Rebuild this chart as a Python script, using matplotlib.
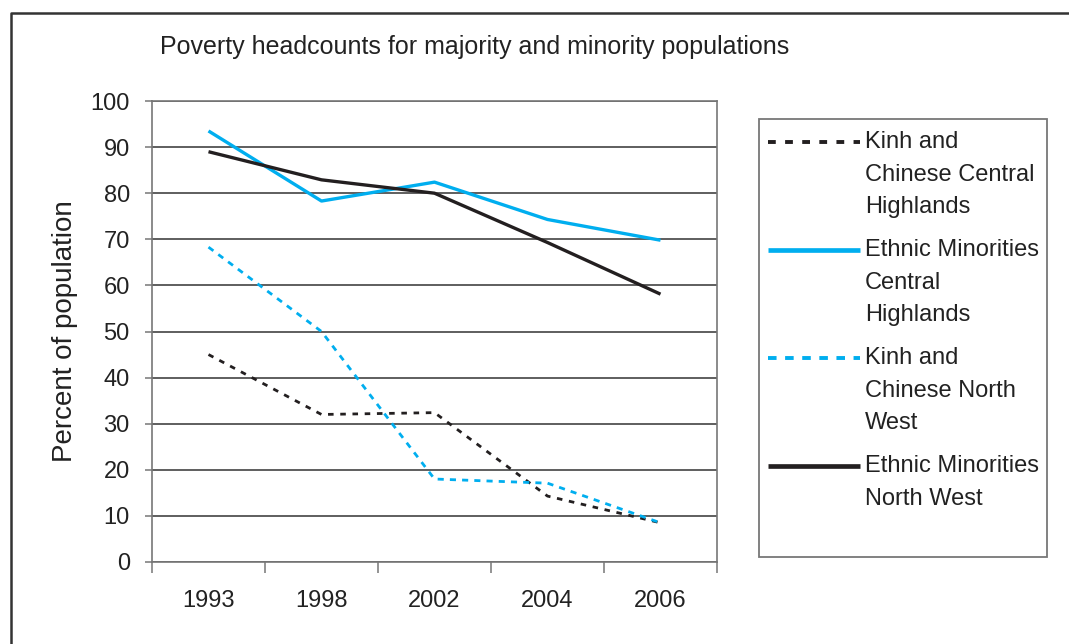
import numpy as np
import matplotlib.pyplot as plt
from matplotlib.lines import Line2D
from matplotlib.patches import Rectangle

plt.rcParams['font.family'] = ['Liberation Sans', 'DejaVu Sans']

# data (percent of population)
years = ['1993', '1998', '2002', '2004', '2006']
kinh_central = [45, 32, 32.4, 14.3, 8.5]
ethnic_central = [93.5, 78.3, 82.4, 74.3, 69.8]
kinh_northwest = [68.3, 50, 18, 17.1, 8.5]
ethnic_northwest = [89, 82.9, 80, 69.3, 58.1]

labels = ['Kinh and\nChinese Central\nHighlands',
          'Ethnic Minorities\nCentral\nHighlands',
          'Kinh and\nChinese North\nWest',
          'Ethnic Minorities\nNorth West']

black = '#231f20'
blue = '#00aeef'
styles = [dict(color=black, lw=2.0, dashes=(2.0, 2.4)),
          dict(color=blue, lw=2.4),
          dict(color=blue, lw=2.0, dashes=(2.2, 2.2)),
          dict(color=black, lw=2.4)]
series = [kinh_central, ethnic_central, kinh_northwest, ethnic_northwest]

W, H = 1069, 644
fig = plt.figure(figsize=(W / 100, H / 100), dpi=100)
ax = fig.add_axes([152 / W, 1 - 562 / H, (717 - 152) / W, (562 - 101) / H])

x = np.arange(len(years))
for vals, st in zip(series, styles):
    ax.plot(x, vals, solid_capstyle='butt', dash_capstyle='butt', **st)

ax.set_xlim(-0.5, len(years) - 0.5)
ax.set_ylim(0, 100)
ax.set_yticks(np.arange(0, 101, 10))
ax.yaxis.grid(True, color='#333333', lw=1.1)
ax.set_axisbelow(True)

ax.set_xticks(np.arange(-0.5, len(years), 1))
ax.set_xticklabels([])
ax.set_xticks(x, minor=True)
ax.set_xticklabels(years, minor=True)
ax.tick_params(axis='x', which='major', length=8, width=1.1, color='#777777', direction='out')
ax.tick_params(axis='x', which='minor', length=0, pad=20, labelsize=17, labelcolor='#222222')
ax.tick_params(axis='y', length=5, width=1.1, color='#777777', pad=11, labelsize=17, labelcolor='#222222')
for sp in ax.spines.values():
    sp.set_color('#777777')
    sp.set_linewidth(1.2)

ax.set_ylabel('Percent of population', fontsize=20, color='#222222')
ax.yaxis.set_label_coords(-0.131, 0.5)

fig.text(160 / W, 1 - 47 / H, 'Poverty headcounts for majority and minority populations',
         fontsize=18, va='center', ha='left', color='#222222')

# legend drawn by hand so the handle sits on the first text line
fig.add_artist(Rectangle((759 / W, 1 - 557 / H), (1047 - 759) / W, (557 - 119) / H,
                         transform=fig.transFigure, fill=False, ec='#777777', lw=1.3))
base = 148
for lab, st in zip(labels, styles):
    hy = 1 - (base - 6) / H
    lst = dict(st)
    lst['lw'] = st['lw'] * 1.4
    fig.add_artist(Line2D([768 / W, 860 / W], [hy, hy], transform=fig.transFigure,
                          solid_capstyle='butt', dash_capstyle='butt', **lst))
    fig.text(865 / W, 1 - (base - 17) / H, lab, fontsize=17, va='top', ha='left',
             linespacing=1.62, color='#222222')
    base += (lab.count('\n') + 1) * 32 + 12

# outer frame (right and bottom edges are cut off in the original)
fig.add_artist(Line2D([11 / W, 11 / W, 1], [0, 1 - 13 / H, 1 - 13 / H],
                      transform=fig.transFigure, color='#333333', lw=1.8))

fig.savefig('out.png', dpi=100)
